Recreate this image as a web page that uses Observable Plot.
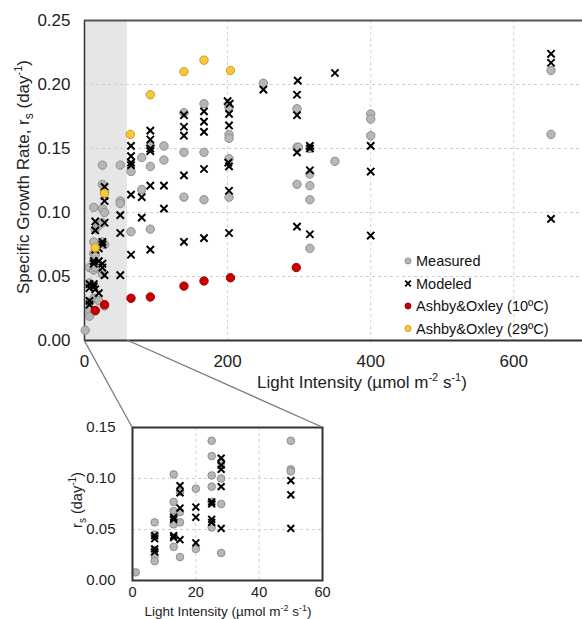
<!DOCTYPE html>
<html><head><meta charset="utf-8">
<script src="https://cdn.jsdelivr.net/npm/d3@7"></script>
<script src="https://cdn.jsdelivr.net/npm/@observablehq/plot@0.6"></script>
<style>
body{margin:0;background:#fff;font-family:"Liberation Sans",Arial,sans-serif;}
#wrap{position:relative;width:582px;height:619px;overflow:hidden;background:#fff;}
#wrap > svg{position:absolute;}
</style></head><body><div id="wrap"></div>
<script>
// ---- data (light intensity µmol m-2 s-1, specific growth rate day-1) ----
const measured = [
[1,0.008],
[7,0.057],[7,0.045],[7,0.030],[7,0.024],[7,0.019],
[13,0.104],[13,0.077],[13,0.068],[13,0.062],[13,0.055],[13,0.033],
[15,0.087],[15,0.067],[15,0.057],[15,0.023],
[20,0.090],[20,0.031],
[25,0.137],[25,0.122],[25,0.103],[25,0.092],[25,0.077],[25,0.052],
[28,0.116],[28,0.100],[28,0.075],[28,0.027],
[50,0.137],[50,0.109],[50,0.107],
[65,0.132],[65,0.085],
[80,0.143],[80,0.118],
[92,0.152],[92,0.136],[92,0.087],
[111,0.152],[111,0.141],
[139,0.178],[139,0.147],[139,0.112],
[167,0.185],[167,0.147],[167,0.110],
[202,0.182],[202,0.161],[202,0.158],[202,0.142],[202,0.112],
[250,0.201],
[297,0.181],[297,0.151],[299,0.151],[297,0.122],
[315,0.150],[315,0.130],[315,0.121],[315,0.110],[315,0.072],
[350,0.140],
[400,0.177],[400,0.173],[400,0.160],
[652,0.211],[652,0.161]
];
const modeled = [
[7,0.044],[7,0.041],[7,0.031],[7,0.028],
[13,0.062],[13,0.060],[13,0.044],[13,0.042],
[15,0.093],[15,0.086],[15,0.071],[15,0.040],
[20,0.072],[20,0.062],[20,0.037],
[25,0.077],[25,0.075],[25,0.060],[25,0.057],
[28,0.120],[28,0.113],[28,0.109],[28,0.092],[28,0.051],
[50,0.098],[50,0.084],[50,0.051],
[65,0.152],[65,0.144],[65,0.139],[65,0.137],[65,0.114],[65,0.067],
[80,0.112],[80,0.096],
[92,0.164],[92,0.157],[92,0.150],[92,0.148],[92,0.121],[92,0.071],
[111,0.121],[111,0.103],
[139,0.176],[139,0.167],[139,0.160],[139,0.129],[139,0.077],
[167,0.179],[167,0.171],[167,0.163],[167,0.134],[167,0.080],
[200,0.187],[203,0.185],[202,0.177],[202,0.168],[201,0.139],[202,0.136],[202,0.117],[202,0.084],
[250,0.196],
[298,0.203],[297,0.192],[297,0.176],[297,0.147],[297,0.089],
[315,0.152],[315,0.150],[315,0.133],[315,0.083],
[350,0.209],
[400,0.152],[400,0.132],[400,0.082],
[652,0.224],[652,0.217],[652,0.095]
];
const ashby10 = [[15,0.0235],[28,0.028],[65,0.033],[92,0.034],[139,0.0425],[167,0.0465],[204,0.049],[296,0.057]];
const ashby29 = [[15,0.0725],[28,0.115],[64,0.161],[92,0.192],[139,0.210],[167,0.219],[204,0.211]];

const mainXTicks = [0,200,400,600];
const mainYTicks = [0,0.05,0.10,0.15,0.20,0.25];
const insetXTicks = [0,20,40,60];
const insetYTicks = [0,0.05,0.10,0.15];
const zoomRange = [0,60];
const legendLabels = ["Measured","Modeled","Ashby&Oxley (10ºC)","Ashby&Oxley (29ºC)"];

// ---- styles ----
const FONT = '"Liberation Sans", Arial, sans-serif';
const GRAY = {fill:"#b6b6b6", stroke:"#8e8e8e", strokeWidth:1};
const CROSS = {symbol:"times", stroke:"#000", strokeWidth:2};
const RED = {fill:"#c80000", stroke:"#a80000", strokeWidth:1};
const YEL = {fill:"#f7c744", stroke:"#d49c00", strokeWidth:1};
const GRID = {stroke:"#cfcfcf", strokeOpacity:1, strokeDasharray:"3,3"};
const X = d => d[0], Y = d => d[1];

const wrap = document.getElementById("wrap");

// ---- main chart ----
const main = Plot.plot({
  width:582, height:400, marginLeft:84, marginRight:0, marginTop:20, marginBottom:60,
  style:{fontFamily:FONT, fontSize:"17px", color:"#222", background:"transparent", overflow:"visible"},
  x:{domain:[0,696]}, y:{domain:[0,0.25]},
  marks:[
    Plot.rect([zoomRange], {x1:d=>d[0], x2:d=>d[1], y1:0, y2:0.25, fill:"#e6e6e6"}),
    Plot.gridY(mainYTicks.slice(1,-1), GRID),
    Plot.gridX(mainXTicks.slice(1), GRID),
    Plot.axisY(mainYTicks, {tickSize:0, tickPadding:14, tickFormat:d3.format(".2f"), label:null, fontSize:17}),
    Plot.axisX(mainXTicks, {tickSize:0, tickPadding:14, label:null, fontSize:17}),
    Plot.ruleX([0], {stroke:"#333", strokeWidth:1.5}),
    Plot.ruleY([0], {stroke:"#333", strokeWidth:2}),
    Plot.ruleY([0.25], {stroke:"#555", strokeWidth:2}),
    Plot.dot(measured, {x:X, y:Y, r:4.2, ...GRAY}),
    Plot.dot(modeled, {x:X, y:Y, r:3.4, ...CROSS}),
    Plot.dot(ashby10, {x:X, y:Y, r:4.2, ...RED}),
    Plot.dot(ashby29, {x:X, y:Y, r:4.2, ...YEL})
  ]
});
main.style.left = "0px"; main.style.top = "0px";
wrap.appendChild(main);

const ms = d3.select(main);
// y title
const yt = ms.append("text").attr("transform","translate(29,177) rotate(-90)")
  .attr("text-anchor","middle").attr("font-size",17).attr("fill","#222");
yt.append("tspan").text("Specific Growth Rate, r");
yt.append("tspan").attr("font-size",12).attr("dy",4).text("s");
yt.append("tspan").attr("dy",-4).text(" (day");
yt.append("tspan").attr("font-size",11).attr("dy",-7).text("-1");
yt.append("tspan").attr("dy",7).text(")");
// x title
const xt = ms.append("text").attr("x",362).attr("y",388)
  .attr("text-anchor","middle").attr("font-size",17).attr("fill","#222");
xt.append("tspan").text("Light Intensity (µmol m");
xt.append("tspan").attr("font-size",11).attr("dy",-7).text("-2");
xt.append("tspan").attr("dy",7).text(" s");
xt.append("tspan").attr("font-size",11).attr("dy",-7).text("-1");
xt.append("tspan").attr("dy",7).text(")");

// legend
const lg = ms.append("g").attr("font-size",14.5).attr("fill","#111").attr("text-anchor","start");
const rows = [261,283.5,306,328.5];
const sym = d3.symbol();
lg.append("circle").attr("cx",408).attr("cy",rows[0]).attr("r",3).attr("fill",GRAY.fill).attr("stroke",GRAY.stroke);
lg.append("path").attr("transform",`translate(408,${rows[1]})`).attr("d",sym.type(d3.symbolTimes).size(22)()).attr("stroke","#000").attr("stroke-width",1.8).attr("fill","none");
lg.append("circle").attr("cx",408).attr("cy",rows[2]).attr("r",3).attr("fill",RED.fill).attr("stroke",RED.stroke);
lg.append("circle").attr("cx",408).attr("cy",rows[3]).attr("r",3).attr("fill",YEL.fill).attr("stroke",YEL.stroke);
legendLabels.forEach((t,i)=>{
  lg.append("text").attr("x",416).attr("y",rows[i]+5.2).attr("text-anchor","start").text(t);
});

// ---- inset chart ----
const INSET_TOP = 400;
const inset = Plot.plot({
  width:340, height:219, marginLeft:132, marginRight:18, marginTop:27, marginBottom:39,
  style:{fontFamily:FONT, fontSize:"15px", color:"#222", background:"transparent", overflow:"visible"},
  x:{domain:[0,60]}, y:{domain:[0,0.15]},
  marks:[
    Plot.gridY(insetYTicks.slice(1,-1), GRID),
    Plot.gridX(insetXTicks.slice(1,-1), GRID),
    Plot.axisY(insetYTicks, {tickSize:0, tickPadding:17, tickFormat:d3.format(".2f"), label:null, fontSize:15}),
    Plot.axisX(insetXTicks, {tickSize:0, tickPadding:6, label:null, fontSize:14.5}),
    Plot.dot(measured.filter(d=>d[0]<=60), {x:X, y:Y, r:3.8, ...GRAY}),
    Plot.dot(modeled.filter(d=>d[0]<=60), {x:X, y:Y, r:3.2, ...CROSS}),
    Plot.frame({stroke:"#333", strokeWidth:2})
  ]
});
inset.style.left = "0px"; inset.style.top = INSET_TOP + "px";
wrap.appendChild(inset);
const is = d3.select(inset);
const iyt = is.append("text").attr("transform","translate(82,100) rotate(-90)")
  .attr("text-anchor","middle").attr("font-size",14.5).attr("fill","#222");
iyt.append("tspan").text("r");
iyt.append("tspan").attr("font-size",10).attr("dy",3.5).text("s");
iyt.append("tspan").attr("dy",-3.5).text(" (day");
iyt.append("tspan").attr("font-size",10).attr("dy",-6).text("-1");
iyt.append("tspan").attr("dy",6).text(")");
const ixt = is.append("text").attr("x",228).attr("y",216)
  .attr("text-anchor","middle").attr("font-size",13.5).attr("fill","#222");
ixt.append("tspan").text("Light Intensity (µmol m");
ixt.append("tspan").attr("font-size",9).attr("dy",-5.5).text("-2");
ixt.append("tspan").attr("dy",5.5).text(" s");
ixt.append("tspan").attr("font-size",9).attr("dy",-5.5).text("-1");
ixt.append("tspan").attr("dy",5.5).text(")");

// ---- connector lines (computed from both charts' scales) ----
const mx = main.scale("x"), my = main.scale("y");
const ix = inset.scale("x"), iy = inset.scale("y");
const ov = d3.select(wrap).append("svg").attr("width",582).attr("height",619)
  .style("left","0px").style("top","0px").style("pointer-events","none");
const links = [
  [mx.apply(zoomRange[0]), my.apply(0), ix.apply(zoomRange[0]), INSET_TOP + iy.apply(0.15)],
  [mx.apply(zoomRange[1]), my.apply(0), ix.apply(zoomRange[1]), INSET_TOP + iy.apply(0.15)]
];
links.forEach(([x1,y1,x2,y2])=>{
  ov.append("line").attr("x1",x1).attr("y1",y1).attr("x2",x2).attr("y2",y2)
    .attr("stroke","#7a7a7a").attr("stroke-width",1.3);
});
</script></body></html>
